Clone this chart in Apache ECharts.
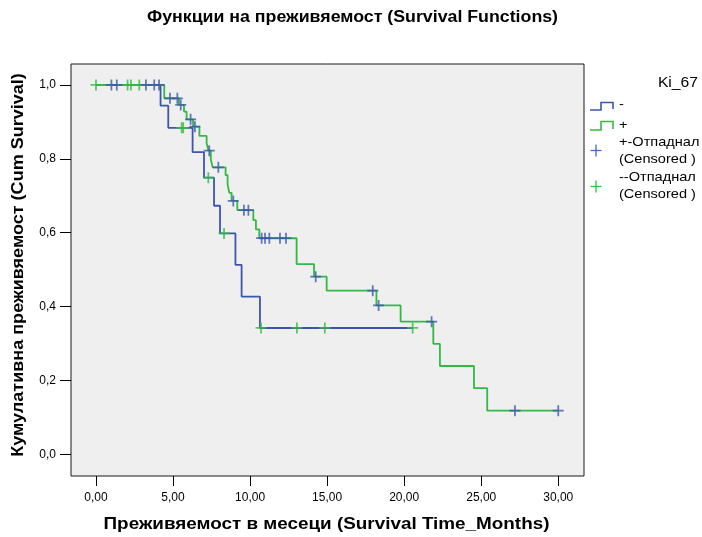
<!DOCTYPE html>
<html>
<head>
<meta charset="utf-8">
<script src="https://cdn.jsdelivr.net/npm/echarts@6/dist/echarts.min.js"></script>
<style>
  html, body { margin: 0; padding: 0; background: #ffffff; }
  #chart { width: 702px; height: 537px; }
</style>
</head>
<body>
<div id="chart"></div>
<script>
// Kaplan-Meier survival estimates by Ki_67 group (time in months)
// Group "-": event times and survival after each event
const negTimes = [0, 4.19, 4.69, 6.27, 7.01, 7.66, 8.05, 9.05, 9.45, 10.64, 20.55];
const negSurv  = [1.0, 0.944, 0.884, 0.818, 0.749, 0.673, 0.598, 0.513, 0.427, 0.342, 0.342];
// Group "-": censored observations
const negCensTimes = [0, 2.05, 2.27, 2.81, 5.56, 5.66, 7.29, 8.31, 10.71, 13.04, 14.85, 20.55];
const negCensSurv  = [1.0, 1.0, 1.0, 1.0, 0.884, 0.884, 0.749, 0.598, 0.342, 0.342, 0.342, 0.342];

// Group "+": event times and survival after each event
const posTimes = [0, 4.43, 5.38, 5.71, 5.88, 6.30, 6.71, 7.18, 7.30, 7.45, 7.57, 8.41, 8.54, 8.65,
                  8.80, 9.17, 10.21, 10.38, 10.60, 13.02, 14.15, 14.97, 18.20, 19.77, 21.89,
                  22.32, 24.53, 25.39, 30.0];
const posSurv  = [1.0, 0.964, 0.946, 0.928, 0.907, 0.887, 0.862, 0.842, 0.822, 0.799, 0.777, 0.756,
                  0.731, 0.708, 0.686, 0.661, 0.634, 0.609, 0.585, 0.515, 0.481, 0.443, 0.403,
                  0.359, 0.299, 0.239, 0.179, 0.118, 0.118];
// Group "+": censored observations
const posCensTimes = [1.0, 1.35, 3.24, 3.78, 4.09, 4.80, 5.28, 5.50, 6.14, 6.42, 7.35, 7.94, 8.91,
                      9.60, 9.89, 10.75, 10.97, 11.25, 11.94, 12.33, 14.26, 17.96, 18.34, 21.78,
                      27.19, 30.0];
const posCensSurv  = [1.0, 1.0, 1.0, 1.0, 1.0, 0.964, 0.964, 0.946, 0.907, 0.887, 0.822, 0.777, 0.686,
                      0.661, 0.661, 0.585, 0.585, 0.585, 0.585, 0.585, 0.481, 0.443, 0.403, 0.359,
                      0.118, 0.118];

// Axis tick values
const xTicks = [0, 5, 10, 15, 20, 25, 30];
const yTicks = [0, 0.2, 0.4, 0.6, 0.8, 1.0];

const zip = (a, b) => a.map((v, i) => [v, b[i]]);

const BLUE = '#3d56ad';
const GREEN = '#33b944';
const FONT = '"Liberation Sans", Arial, sans-serif';
const PLUS = 'path://M4.2,0 L5.8,0 L5.8,4.2 L10,4.2 L10,5.8 L5.8,5.8 L5.8,10 L4.2,10 L4.2,5.8 L0,5.8 L0,4.2 L4.2,4.2 Z';

const chart = echarts.init(document.getElementById('chart'), null, { renderer: 'canvas' });

const boldText = (size) => `bold ${size}px ${FONT}`;
const legendText = (txt, x, y) => ({
  type: 'text', x: x, y: y, scaleX: 1.12,
  style: { text: txt, font: `13px ${FONT}`, lineHeight: 17, fill: '#000',
           align: 'left', verticalAlign: 'top' }
});

const option = {
  backgroundColor: '#ffffff',
  animation: false,
  grid: {
    left: 71, top: 64, right: 118, bottom: 61,
    show: true, backgroundColor: '#efefef', borderColor: '#1a1a1a', borderWidth: 1
  },
  xAxis: {
    type: 'value', min: -1.622, max: 31.67,
    axisLine: { show: false, onZero: false },
    splitLine: { show: false },
    axisTick: { show: true, customValues: xTicks, length: 10, inside: false,
                lineStyle: { color: '#000', width: 1 } },
    axisLabel: { customValues: xTicks, margin: 16, fontFamily: FONT, fontSize: 12, color: '#000',
                 formatter: v => v.toFixed(2).replace('.', ',') }
  },
  yAxis: {
    type: 'value', min: -0.0588, max: 1.0568,
    axisLine: { show: false, onZero: false },
    splitLine: { show: false },
    axisTick: { show: true, customValues: yTicks, length: 11,
                lineStyle: { color: '#000', width: 1 } },
    axisLabel: { customValues: yTicks, margin: 15, fontFamily: FONT, fontSize: 12, color: '#000',
                 formatter: v => v.toFixed(1).replace('.', ',') }
  },
  series: [
    {
      name: '-', type: 'line', step: 'end', data: zip(negTimes, negSurv),
      showSymbol: false, symbol: 'none',
      lineStyle: { color: BLUE, width: 1.8 }, z: 2
    },
    {
      name: '+', type: 'line', step: 'end', data: zip(posTimes, posSurv),
      showSymbol: false, symbol: 'none',
      lineStyle: { color: GREEN, width: 1.8 }, z: 3
    },
    {
      name: '--Отпаднал', type: 'scatter', data: zip(negCensTimes, negCensSurv),
      symbol: PLUS, symbolSize: 11, itemStyle: { color: GREEN }, z: 4
    },
    {
      name: '+-Отпаднал', type: 'scatter', data: zip(posCensTimes, posCensSurv),
      symbol: PLUS, symbolSize: 11, itemStyle: { color: BLUE }, z: 5
    }
  ],
  graphic: [
    // Titles
    { type: 'text', x: 352.5, y: 18, scaleX: 1.11,
      style: { text: 'Функции на преживяемост (Survival Functions)', font: boldText(16),
               fill: '#000', align: 'center', verticalAlign: 'middle' } },
    { type: 'text', x: 326.5, y: 524, scaleX: 1.11,
      style: { text: 'Преживяемост в месеци (Survival Time_Months)', font: boldText(17),
               fill: '#000', align: 'center', verticalAlign: 'middle' } },
    { type: 'text', x: 18, y: 265, rotation: Math.PI / 2, scaleX: 1.06,
      style: { text: 'Кумулативна преживяемост (Cum Survival)', font: boldText(17),
               fill: '#000', align: 'center', verticalAlign: 'middle' } },
    // Legend
    { type: 'text', x: 698, y: 83, scaleX: 1.12,
      style: { text: 'Ki_67', font: `14px ${FONT}`, fill: '#000', align: 'right', verticalAlign: 'middle' } },
    { type: 'polyline', shape: { points: [[590, 110], [601, 110], [601, 102.5], [613, 102.5], [613, 109]] },
      style: { stroke: BLUE, lineWidth: 1.6, fill: null } },
    legendText('-', 619, 96),
    { type: 'polyline', shape: { points: [[590, 130], [601, 130], [601, 121.5], [613, 121.5], [613, 129]] },
      style: { stroke: GREEN, lineWidth: 1.6, fill: null } },
    legendText('+', 619, 117),
    { type: 'polyline', shape: { points: [[590.5, 150.5], [601.5, 150.5]] },
      style: { stroke: '#4a66cc', lineWidth: 1.3 } },
    { type: 'polyline', shape: { points: [[596, 144.5], [596, 156.5]] },
      style: { stroke: '#4a66cc', lineWidth: 1.3 } },
    legendText('+-Отпаднал\n(Censored )', 619, 134),
    { type: 'polyline', shape: { points: [[590.5, 186.5], [601.5, 186.5]] },
      style: { stroke: '#27c83a', lineWidth: 1.3 } },
    { type: 'polyline', shape: { points: [[596, 180.5], [596, 192.5]] },
      style: { stroke: '#27c83a', lineWidth: 1.3 } },
    legendText('--Отпаднал\n(Censored )', 619, 169)
  ]
};

chart.setOption(option);
</script>
</body>
</html>
